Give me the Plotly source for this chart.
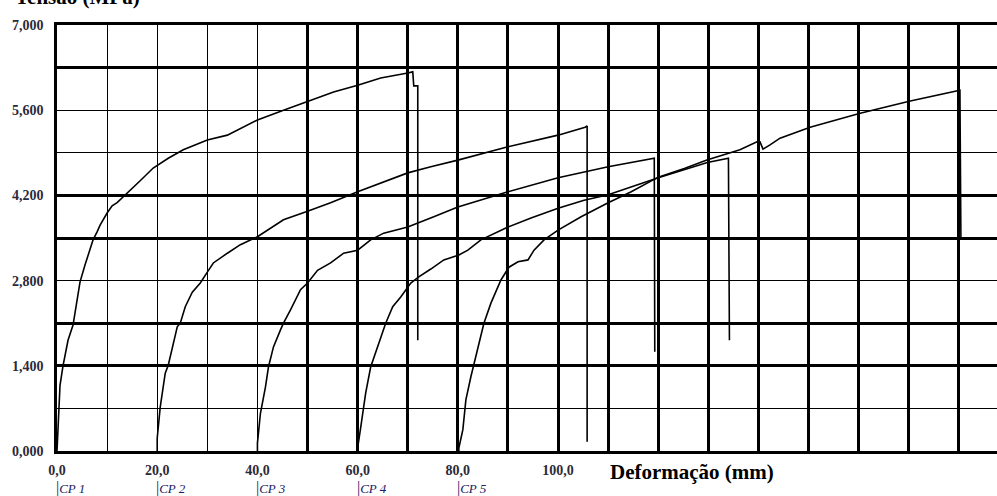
import plotly.graph_objects as go

# ---- data (deformação mm, tensão MPa) ----
cp1_x = [0, 0.2, 0.6, 1.2, 1.8, 2.2, 3.2, 3.8, 4.6, 5.6, 6.2, 7.2, 8.0, 8.6, 10.0, 11.0, 12.0, 14.2, 16.6,
         19.2, 22.2, 25.2, 30.0, 34.0, 40.0, 45.2, 50.0, 55.2, 60.0, 64.6, 70.0, 71.0, 71.2, 72.0, 72.0]
cp1_y = [0, 430, 1080, 1400, 1660, 1820, 2070, 2400, 2780, 3060, 3220, 3470, 3600, 3710, 3910, 4030, 4080, 4260, 4440,
         4650, 4810, 4950, 5110, 5190, 5440, 5600, 5750, 5900, 6010, 6130, 6210, 6230, 6000, 6000, 1820]

cp2_x = [20, 20, 20.6, 21.6, 22.2, 23.0, 24.0, 24.6, 25.6, 27.0, 28.6, 30.0, 31.2, 34.0, 36.6, 40.0, 45.2,
         50.0, 54.6, 60.0, 65.2, 70.0, 74.6, 80.0, 90.0, 100.0, 105.4, 105.8, 105.8]
cp2_y = [0, 210, 720, 1280, 1410, 1710, 2040, 2100, 2370, 2610, 2760, 2940, 3090, 3250, 3390, 3520, 3800,
         3940, 4080, 4260, 4420, 4570, 4670, 4780, 5000, 5190, 5320, 5340, 150]

cp3_x = [40, 40, 40.6, 41.6, 42.2, 43.2, 44.6, 45.2, 46.6, 48.6, 50.0, 52.0, 54.6, 57.2, 60.0, 62.6, 65.2,
         70.0, 75.2, 80.0, 90.0, 100.0, 110.0, 118.6, 119.2, 119.3]
cp3_y = [0, 130, 620, 1050, 1380, 1710, 1990, 2100, 2320, 2650, 2760, 2970, 3090, 3250, 3300, 3470, 3580,
         3680, 3850, 4010, 4260, 4490, 4670, 4810, 4810, 1630]

cp4_x = [60, 60, 60.6, 61, 61.6, 62.6, 63.6, 65, 65.6, 67, 68.6, 70.6, 72.2, 74.6, 77.2, 80.2, 82, 84.6,
         90, 94.6, 100, 105.2, 110, 120, 125.2, 129.8, 134.0, 134.2]
cp4_y = [0, 50, 380, 640, 950, 1380, 1610, 1940, 2100, 2370, 2530, 2760, 2860, 2990, 3140, 3220, 3300, 3470,
         3680, 3830, 3990, 4120, 4210, 4490, 4620, 4740, 4810, 1820]

cp5_x = [80.2, 80.2, 81, 81.6, 82.6, 84, 85.2, 86.6, 88.6, 90.2, 92, 94, 95.2, 97.2, 100, 104.6, 110, 114.6,
         120, 125.2, 129.7, 136.3, 139.7, 140.3, 140.9, 142.3, 144.3, 150.3, 160.3, 170.3, 179.6, 180.2, 180.4]
cp5_y = [0, 50, 350, 840, 1220, 1710, 2100, 2430, 2810, 3020, 3110, 3140, 3300, 3470, 3630, 3850, 4080, 4260,
         4500, 4640, 4780, 4950, 5080, 5080, 4960, 5030, 5140, 5320, 5550, 5750, 5920, 5930, 3470]

cp_names = ["CP 1", "CP 2", "CP 3", "CP 4", "CP 5"]
cp_starts = [0, 20, 40, 60, 80]

x_grid = list(range(0, 190, 10))
x_labels = {0: "0,0", 20: "20,0", 40: "40,0", 60: "60,0", 80: "80,0", 100: "100,0"}
x_thick = list(range(50, 190, 10))
y_grid = list(range(0, 7001, 700))
y_labels = {0: "0,000", 1400: "1,400", 2800: "2,800", 4200: "4,200", 5600: "5,600", 7000: "7,000"}
y_thick = [1400, 2100, 3500, 4200, 6300, 7000]

X_RANGE = [0, 187.6]
Y_RANGE = [0, 7000]

fig = go.Figure()
for xs, ys, nm in zip([cp1_x, cp2_x, cp3_x, cp4_x, cp5_x], [cp1_y, cp2_y, cp3_y, cp4_y, cp5_y], cp_names):
    fig.add_trace(go.Scatter(x=xs, y=ys, mode="lines", name=nm,
                             line=dict(color="black", width=1.6), showlegend=False))

# empty traces to hold overlay axes for the heavier grid lines
fig.add_trace(go.Scatter(x=[], y=[], xaxis="x2", yaxis="y", showlegend=False, hoverinfo="skip"))
fig.add_trace(go.Scatter(x=[], y=[], xaxis="x", yaxis="y2", showlegend=False, hoverinfo="skip"))

tick_font = dict(family="Liberation Serif", size=14, color="#2a2a3a", weight="bold")

fig.update_layout(
    width=997, height=496,
    margin=dict(l=57, r=0, t=25, b=45),
    paper_bgcolor="white", plot_bgcolor="white",
    showlegend=False,
    xaxis=dict(range=X_RANGE, tickvals=x_grid, ticktext=[x_labels.get(v, "") for v in x_grid],
               showgrid=True, gridcolor="black", gridwidth=1.2, zeroline=False,
               showline=True, linecolor="black", linewidth=2.5, mirror=True,
               ticks="", tickfont=tick_font, ticklabelstandoff=4),
    yaxis=dict(range=Y_RANGE, tickvals=y_grid, ticktext=[y_labels.get(v, "") for v in y_grid],
               showgrid=True, gridcolor="black", gridwidth=1.2, zeroline=False,
               showline=True, linecolor="black", linewidth=2.5,
               ticks="", tickfont=tick_font, ticklabelstandoff=8),
    xaxis2=dict(overlaying="x", anchor="y", range=X_RANGE, tickvals=x_thick, showticklabels=False,
                showgrid=True, gridcolor="black", gridwidth=2.6, zeroline=False, showline=False, ticks=""),
    yaxis2=dict(overlaying="y", anchor="x", side="left", range=Y_RANGE, tickvals=y_thick,
                showticklabels=False, showgrid=True, gridcolor="black", gridwidth=2.6,
                zeroline=False, showline=False, ticks=""),
)

annotations = [
    dict(text="<b>Tensão (MPa)</b>", xref="paper", yref="paper", x=-0.047, y=1.066,
         xanchor="left", yanchor="middle", showarrow=False,
         font=dict(family="Liberation Serif", size=21, color="black")),
    dict(text="<b>Deformação (mm)</b>", xref="x", yref="paper", x=110.0, y=-0.049,
         xanchor="left", yanchor="middle", showarrow=False,
         font=dict(family="Liberation Serif", size=21, color="black")),
]
for nm, xs in zip(cp_names, cp_starts):
    annotations.append(dict(text="<span style='font-size:16px'>|</span><i>" + nm + "</i>",
                            xref="x", yref="paper", x=xs, xshift=-3, y=-0.087,
                            xanchor="left", yanchor="middle", showarrow=False,
                            font=dict(family="Liberation Serif", size=13, color="#1a2060")))
fig.update_layout(annotations=annotations)

fig.write_html("out.html", post_script="document.body.style.margin='0';",
               config={"displayModeBar": False})
